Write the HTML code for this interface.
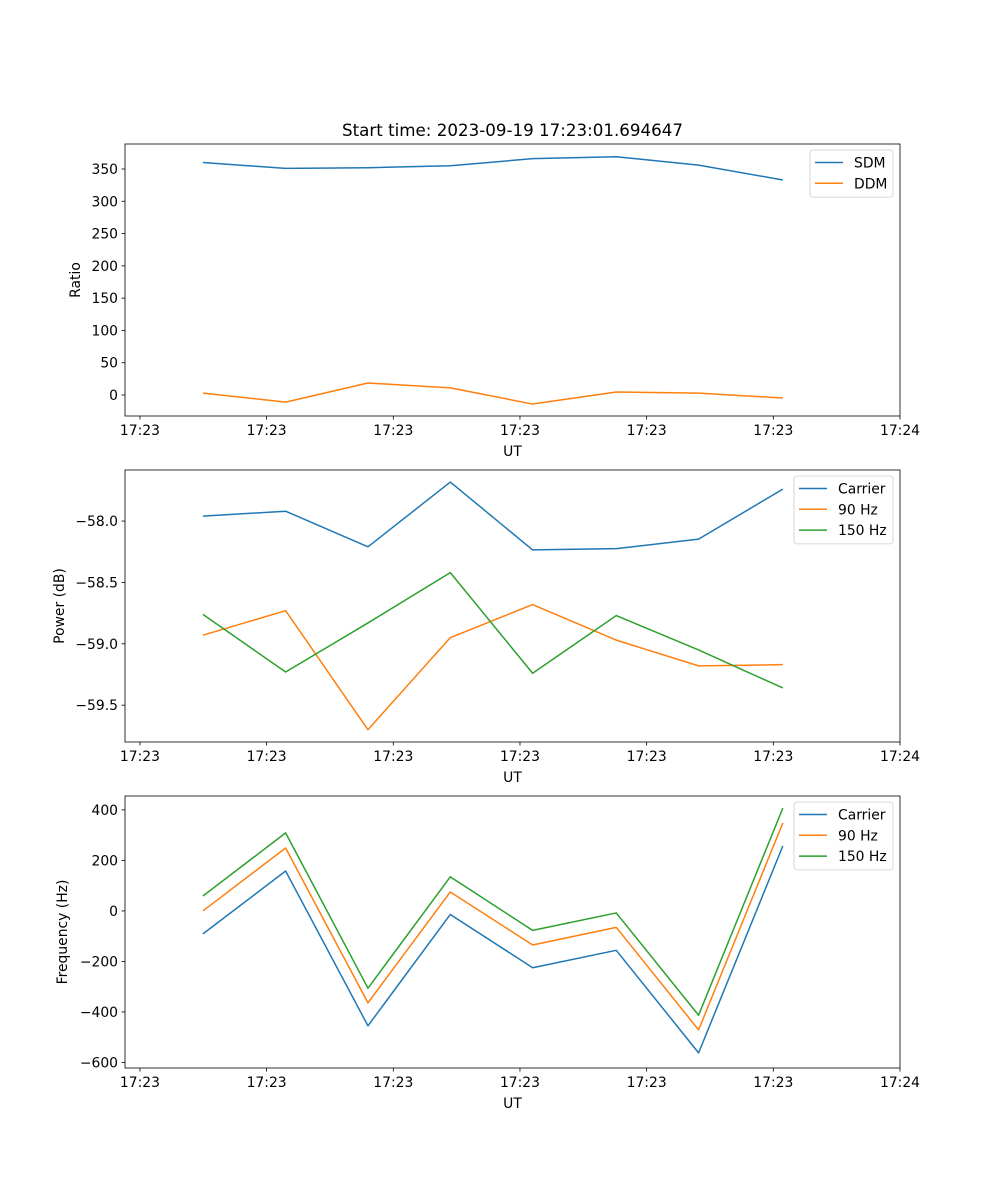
<!DOCTYPE html>
<html><head><meta charset="utf-8"><style>
body{margin:0;background:#fff}
svg{display:block;font-family:"DejaVu Sans","Liberation Sans",sans-serif}
</style></head><body>
<svg id="fig" width="1000" height="1200" viewBox="0 0 1000 1200" xmlns="http://www.w3.org/2000/svg">
<rect width="1000" height="1200" fill="#fff"/>
<text x="512.5" y="136" font-size="16.7" text-anchor="middle">Start time: 2023-09-19 17:23:01.694647</text>
</svg>
<script>
const times = [4.97, 11.5, 18.0, 24.5, 31.0, 37.6, 44.1, 50.75];
const xTickVals = [0, 10, 20, 30, 40, 50, 60];
const xTickLabels = ["17:23","17:23","17:23","17:23","17:23","17:23","17:24"];
const sdm = [360, 351, 352, 355, 366, 369, 356, 333];
const ddm = [3, -11, 18.6, 11, -14, 4.6, 3, -4.6];
const ratioTicks = [0, 50, 100, 150, 200, 250, 300, 350];
const powCarrier = [-57.96, -57.92, -58.21, -57.682, -58.235, -58.225, -58.147, -57.74];
const pow90 = [-58.93, -58.73, -59.70, -58.95, -58.68, -58.97, -59.18, -59.17];
const pow150 = [-58.76, -59.23, -58.83, -58.42, -59.24, -58.77, -59.05, -59.36];
const powTicks = [-58.0, -58.5, -59.0, -59.5];
const powTickLabels = ["\u221258.0","\u221258.5","\u221259.0","\u221259.5"];
const freqCarrier = [-91, 158, -455, -14, -225, -156, -562, 257];
const freq90 = [0, 249, -364, 75, -135, -65, -471, 348];
const freq150 = [59, 309, -306, 135, -77, -8, -413, 407];
const freqTicks = [-600, -400, -200, 0, 200, 400];
const freqTickLabels = ["\u2212600","\u2212400","\u2212200","0","200","400"];

const NS = "http://www.w3.org/2000/svg";
const svg = document.getElementById('fig');
const C = {blue:"#1f77b4", orange:"#ff7f0e", green:"#2ca02c"};
const L = 125, R = 900;
const xMin = -1.18, xMax = 60;
function xs(t){ return L + (t - xMin) / (xMax - xMin) * (R - L); }
function mk(tag, attrs, parent){ const e = document.createElementNS(NS, tag); for (const k in attrs) e.setAttribute(k, attrs[k]); (parent||svg).appendChild(e); return e; }

function axes(name, top, bottom, yMin, yMax, yTicks, yLabels, yTitle, series, legend){
  const g = mk('g', {});
  
  
  const ys = v => bottom - (v - yMin) / (yMax - yMin) * (bottom - top);
  series.forEach(s => {
    const pts = times.map((t,i) => xs(t).toFixed(2) + ',' + ys(s.vals[i]).toFixed(2)).join(' ');
    const p = mk('polyline', {points: pts, fill: 'none', stroke: s.color, 'stroke-width': 1.5, 'stroke-linejoin': 'round'}, g);
    
    
  });
  const fr = mk('rect', {x: L, y: top, width: R - L, height: bottom - top, fill: 'none', stroke: '#000', 'stroke-width': 0.8}, g);
  
  
  xTickVals.forEach((v,i) => {
    const x = xs(v);
    mk('line', {x1: x, x2: x, y1: bottom, y2: bottom + 3.5, stroke: '#000', 'stroke-width': 0.8}, g);
    const t = mk('text', {x: x, y: bottom + 19, 'font-size': 13.9, 'text-anchor': 'middle'}, g);
    
    
    t.textContent = xTickLabels[i];
  });
  const xt = mk('text', {x: (L + R) / 2, y: bottom + 40, 'font-size': 13.9, 'text-anchor': 'middle'}, g);
  
  
  xt.textContent = 'UT';
  yTicks.forEach((v,i) => {
    const y = ys(v);
    mk('line', {x1: L - 3.5, x2: L, y1: y, y2: y, stroke: '#000', 'stroke-width': 0.8}, g);
    const t = mk('text', {x: L - 7, y: y + 5, 'font-size': 13.9, 'text-anchor': 'end'}, g);
    
    
    t.textContent = yLabels[i];
  });
  const ty = legend.titleX;
  const yt = mk('text', {x: ty, y: (top + bottom) / 2, 'font-size': 13.9, 'text-anchor': 'middle', transform: `rotate(-90 ${ty} ${(top+bottom)/2})`}, g);
  
  
  yt.textContent = yTitle;
  const lg = mk('g', {}, g);
  
  
  const lh = 5.5 + series.length * 20.8;
  mk('rect', {x: legend.x, y: top + 6, width: R - 7 - legend.x, height: lh, rx: 3, fill: '#fff', 'fill-opacity': 0.8, stroke: '#ccc', 'stroke-width': 0.8}, lg);
  series.forEach((s,i) => {
    const y = top + 18.5 + i * 20.8;
    mk('line', {x1: legend.x + 5, x2: legend.x + 33, y1: y, y2: y, stroke: s.color, 'stroke-width': 1.5}, lg);
    const t = mk('text', {x: legend.x + 44, y: y + 5, 'font-size': 13.9}, lg);
    
    
    t.textContent = s.label;
  });
}

axes('ratio-panel', 144, 416, -32.5, 388.7, ratioTicks, ratioTicks.map(String), 'Ratio',
  [{name:'sdm-line', label:'SDM', color:C.blue, vals:sdm}, {name:'ddm-line', label:'DDM', color:C.orange, vals:ddm}],
  {x:810, titleX:80});
axes('power-panel', 470, 742, -59.80, -57.584, powTicks, powTickLabels, 'Power (dB)',
  [{name:'power-carrier-line', label:'Carrier', color:C.blue, vals:powCarrier},
   {name:'power-90hz-line', label:'90 Hz', color:C.orange, vals:pow90},
   {name:'power-150hz-line', label:'150 Hz', color:C.green, vals:pow150}],
  {x:794, titleX:64});
axes('frequency-panel', 796, 1068, -622, 455, freqTicks, freqTickLabels, 'Frequency (Hz)',
  [{name:'freq-carrier-line', label:'Carrier', color:C.blue, vals:freqCarrier},
   {name:'freq-90hz-line', label:'90 Hz', color:C.orange, vals:freq90},
   {name:'freq-150hz-line', label:'150 Hz', color:C.green, vals:freq150}],
  {x:794, titleX:67});
</script>
</body></html>
